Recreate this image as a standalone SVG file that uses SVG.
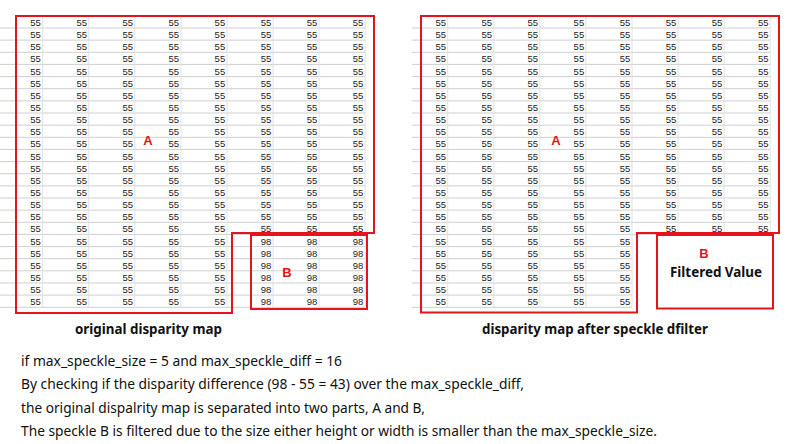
<svg xmlns="http://www.w3.org/2000/svg" width="792" height="444" viewBox="0 0 792 444">
<style>
.c{font-family:"Liberation Sans",Arial,sans-serif;font-size:9.5px;fill:#222;text-anchor:end}
.hl{stroke:#cfcfcf;stroke-width:1;fill:none}
.vl{stroke:#e2e2e2;stroke-width:1;fill:none}
.box{stroke:#e5131c;stroke-width:2;fill:none}
.lab{font-family:"Liberation Sans",Arial,sans-serif;font-size:13px;font-weight:bold;fill:#e5131c}
.cap{font-family:"Noto Sans","Liberation Sans",sans-serif;font-size:14px;font-weight:bold;fill:#111}
.note{font-family:"Noto Sans","Liberation Sans",sans-serif;font-size:14px;fill:#111}
</style>
<rect width="792" height="444" fill="#fff"/>
<g id="left-grid">
<path class="hl" d="M0 28H365.2M0 40.1H365.2M0 52.3H365.2M0 64.4H365.2M0 76.6H365.2M0 88.7H365.2M0 100.9H365.2M0 113H365.2M0 125.2H365.2M0 137.3H365.2M0 149.4H365.2M0 161.6H365.2M0 173.7H365.2M0 185.9H365.2M0 198H365.2M0 210.1H365.2M0 222.3H365.2M0 234.4H365.2M0 246.6H365.2M0 258.7H365.2M0 270.8H365.2M0 283H365.2M0 295.1H365.2M0 307.3H365.2"/>
<path class="vl" d="M42.7 16V307.3M88.8 16V307.3M134.8 16V307.3M180.9 16V307.3M227 16V307.3M273.1 16V307.3M319.1 16V307.3M365.2 16V307.3"/>
<text class="c" y="26"><tspan x="40.9">55</tspan><tspan x="87">55</tspan><tspan x="133">55</tspan><tspan x="179.1">55</tspan><tspan x="225.2">55</tspan><tspan x="271.3">55</tspan><tspan x="317.3">55</tspan><tspan x="363.4">55</tspan></text>
<text class="c" y="38.1"><tspan x="40.9">55</tspan><tspan x="87">55</tspan><tspan x="133">55</tspan><tspan x="179.1">55</tspan><tspan x="225.2">55</tspan><tspan x="271.3">55</tspan><tspan x="317.3">55</tspan><tspan x="363.4">55</tspan></text>
<text class="c" y="50.3"><tspan x="40.9">55</tspan><tspan x="87">55</tspan><tspan x="133">55</tspan><tspan x="179.1">55</tspan><tspan x="225.2">55</tspan><tspan x="271.3">55</tspan><tspan x="317.3">55</tspan><tspan x="363.4">55</tspan></text>
<text class="c" y="62.4"><tspan x="40.9">55</tspan><tspan x="87">55</tspan><tspan x="133">55</tspan><tspan x="179.1">55</tspan><tspan x="225.2">55</tspan><tspan x="271.3">55</tspan><tspan x="317.3">55</tspan><tspan x="363.4">55</tspan></text>
<text class="c" y="74.6"><tspan x="40.9">55</tspan><tspan x="87">55</tspan><tspan x="133">55</tspan><tspan x="179.1">55</tspan><tspan x="225.2">55</tspan><tspan x="271.3">55</tspan><tspan x="317.3">55</tspan><tspan x="363.4">55</tspan></text>
<text class="c" y="86.7"><tspan x="40.9">55</tspan><tspan x="87">55</tspan><tspan x="133">55</tspan><tspan x="179.1">55</tspan><tspan x="225.2">55</tspan><tspan x="271.3">55</tspan><tspan x="317.3">55</tspan><tspan x="363.4">55</tspan></text>
<text class="c" y="98.9"><tspan x="40.9">55</tspan><tspan x="87">55</tspan><tspan x="133">55</tspan><tspan x="179.1">55</tspan><tspan x="225.2">55</tspan><tspan x="271.3">55</tspan><tspan x="317.3">55</tspan><tspan x="363.4">55</tspan></text>
<text class="c" y="111"><tspan x="40.9">55</tspan><tspan x="87">55</tspan><tspan x="133">55</tspan><tspan x="179.1">55</tspan><tspan x="225.2">55</tspan><tspan x="271.3">55</tspan><tspan x="317.3">55</tspan><tspan x="363.4">55</tspan></text>
<text class="c" y="123.2"><tspan x="40.9">55</tspan><tspan x="87">55</tspan><tspan x="133">55</tspan><tspan x="179.1">55</tspan><tspan x="225.2">55</tspan><tspan x="271.3">55</tspan><tspan x="317.3">55</tspan><tspan x="363.4">55</tspan></text>
<text class="c" y="135.3"><tspan x="40.9">55</tspan><tspan x="87">55</tspan><tspan x="133">55</tspan><tspan x="179.1">55</tspan><tspan x="225.2">55</tspan><tspan x="271.3">55</tspan><tspan x="317.3">55</tspan><tspan x="363.4">55</tspan></text>
<text class="c" y="147.4"><tspan x="40.9">55</tspan><tspan x="87">55</tspan><tspan x="133">55</tspan><tspan x="179.1">55</tspan><tspan x="225.2">55</tspan><tspan x="271.3">55</tspan><tspan x="317.3">55</tspan><tspan x="363.4">55</tspan></text>
<text class="c" y="159.6"><tspan x="40.9">55</tspan><tspan x="87">55</tspan><tspan x="133">55</tspan><tspan x="179.1">55</tspan><tspan x="225.2">55</tspan><tspan x="271.3">55</tspan><tspan x="317.3">55</tspan><tspan x="363.4">55</tspan></text>
<text class="c" y="171.7"><tspan x="40.9">55</tspan><tspan x="87">55</tspan><tspan x="133">55</tspan><tspan x="179.1">55</tspan><tspan x="225.2">55</tspan><tspan x="271.3">55</tspan><tspan x="317.3">55</tspan><tspan x="363.4">55</tspan></text>
<text class="c" y="183.9"><tspan x="40.9">55</tspan><tspan x="87">55</tspan><tspan x="133">55</tspan><tspan x="179.1">55</tspan><tspan x="225.2">55</tspan><tspan x="271.3">55</tspan><tspan x="317.3">55</tspan><tspan x="363.4">55</tspan></text>
<text class="c" y="196"><tspan x="40.9">55</tspan><tspan x="87">55</tspan><tspan x="133">55</tspan><tspan x="179.1">55</tspan><tspan x="225.2">55</tspan><tspan x="271.3">55</tspan><tspan x="317.3">55</tspan><tspan x="363.4">55</tspan></text>
<text class="c" y="208.1"><tspan x="40.9">55</tspan><tspan x="87">55</tspan><tspan x="133">55</tspan><tspan x="179.1">55</tspan><tspan x="225.2">55</tspan><tspan x="271.3">55</tspan><tspan x="317.3">55</tspan><tspan x="363.4">55</tspan></text>
<text class="c" y="220.3"><tspan x="40.9">55</tspan><tspan x="87">55</tspan><tspan x="133">55</tspan><tspan x="179.1">55</tspan><tspan x="225.2">55</tspan><tspan x="271.3">55</tspan><tspan x="317.3">55</tspan><tspan x="363.4">55</tspan></text>
<text class="c" y="232.4"><tspan x="40.9">55</tspan><tspan x="87">55</tspan><tspan x="133">55</tspan><tspan x="179.1">55</tspan><tspan x="225.2">55</tspan><tspan x="271.3">55</tspan><tspan x="317.3">55</tspan><tspan x="363.4">55</tspan></text>
<text class="c" y="244.6"><tspan x="40.9">55</tspan><tspan x="87">55</tspan><tspan x="133">55</tspan><tspan x="179.1">55</tspan><tspan x="225.2">55</tspan><tspan x="271.3">98</tspan><tspan x="317.3">98</tspan><tspan x="363.4">98</tspan></text>
<text class="c" y="256.7"><tspan x="40.9">55</tspan><tspan x="87">55</tspan><tspan x="133">55</tspan><tspan x="179.1">55</tspan><tspan x="225.2">55</tspan><tspan x="271.3">98</tspan><tspan x="317.3">98</tspan><tspan x="363.4">98</tspan></text>
<text class="c" y="268.8"><tspan x="40.9">55</tspan><tspan x="87">55</tspan><tspan x="133">55</tspan><tspan x="179.1">55</tspan><tspan x="225.2">55</tspan><tspan x="271.3">98</tspan><tspan x="317.3">98</tspan><tspan x="363.4">98</tspan></text>
<text class="c" y="281"><tspan x="40.9">55</tspan><tspan x="87">55</tspan><tspan x="133">55</tspan><tspan x="179.1">55</tspan><tspan x="225.2">55</tspan><tspan x="271.3">98</tspan><tspan x="317.3">98</tspan><tspan x="363.4">98</tspan></text>
<text class="c" y="293.1"><tspan x="40.9">55</tspan><tspan x="87">55</tspan><tspan x="133">55</tspan><tspan x="179.1">55</tspan><tspan x="225.2">55</tspan><tspan x="271.3">98</tspan><tspan x="317.3">98</tspan><tspan x="363.4">98</tspan></text>
<text class="c" y="305.3"><tspan x="40.9">55</tspan><tspan x="87">55</tspan><tspan x="133">55</tspan><tspan x="179.1">55</tspan><tspan x="225.2">55</tspan><tspan x="271.3">98</tspan><tspan x="317.3">98</tspan><tspan x="363.4">98</tspan></text>
</g>
<g id="right-grid">
<path class="hl" d="M411.7 28H770.2M411.7 40.1H770.2M411.7 52.3H770.2M411.7 64.4H770.2M411.7 76.6H770.2M411.7 88.7H770.2M411.7 100.9H770.2M411.7 113H770.2M411.7 125.2H770.2M411.7 137.3H770.2M411.7 149.4H770.2M411.7 161.6H770.2M411.7 173.7H770.2M411.7 185.9H770.2M411.7 198H770.2M411.7 210.1H770.2M411.7 222.3H770.2M411.7 234.4H770.2M411.7 246.6H632M411.7 258.7H632M411.7 270.8H632M411.7 283H632M411.7 295.1H632M411.7 307.3H632"/>
<path class="vl" d="M447.7 16V307.3M493.8 16V307.3M539.8 16V307.3M585.9 16V307.3M632 16V307.3M678.1 16V234.4M724.1 16V234.4M770.2 16V234.4"/>
<text class="c" y="26"><tspan x="446">55</tspan><tspan x="492.1">55</tspan><tspan x="538.1">55</tspan><tspan x="584.2">55</tspan><tspan x="630.3">55</tspan><tspan x="676.4">55</tspan><tspan x="722.4">55</tspan><tspan x="768.5">55</tspan></text>
<text class="c" y="38.1"><tspan x="446">55</tspan><tspan x="492.1">55</tspan><tspan x="538.1">55</tspan><tspan x="584.2">55</tspan><tspan x="630.3">55</tspan><tspan x="676.4">55</tspan><tspan x="722.4">55</tspan><tspan x="768.5">55</tspan></text>
<text class="c" y="50.3"><tspan x="446">55</tspan><tspan x="492.1">55</tspan><tspan x="538.1">55</tspan><tspan x="584.2">55</tspan><tspan x="630.3">55</tspan><tspan x="676.4">55</tspan><tspan x="722.4">55</tspan><tspan x="768.5">55</tspan></text>
<text class="c" y="62.4"><tspan x="446">55</tspan><tspan x="492.1">55</tspan><tspan x="538.1">55</tspan><tspan x="584.2">55</tspan><tspan x="630.3">55</tspan><tspan x="676.4">55</tspan><tspan x="722.4">55</tspan><tspan x="768.5">55</tspan></text>
<text class="c" y="74.6"><tspan x="446">55</tspan><tspan x="492.1">55</tspan><tspan x="538.1">55</tspan><tspan x="584.2">55</tspan><tspan x="630.3">55</tspan><tspan x="676.4">55</tspan><tspan x="722.4">55</tspan><tspan x="768.5">55</tspan></text>
<text class="c" y="86.7"><tspan x="446">55</tspan><tspan x="492.1">55</tspan><tspan x="538.1">55</tspan><tspan x="584.2">55</tspan><tspan x="630.3">55</tspan><tspan x="676.4">55</tspan><tspan x="722.4">55</tspan><tspan x="768.5">55</tspan></text>
<text class="c" y="98.9"><tspan x="446">55</tspan><tspan x="492.1">55</tspan><tspan x="538.1">55</tspan><tspan x="584.2">55</tspan><tspan x="630.3">55</tspan><tspan x="676.4">55</tspan><tspan x="722.4">55</tspan><tspan x="768.5">55</tspan></text>
<text class="c" y="111"><tspan x="446">55</tspan><tspan x="492.1">55</tspan><tspan x="538.1">55</tspan><tspan x="584.2">55</tspan><tspan x="630.3">55</tspan><tspan x="676.4">55</tspan><tspan x="722.4">55</tspan><tspan x="768.5">55</tspan></text>
<text class="c" y="123.2"><tspan x="446">55</tspan><tspan x="492.1">55</tspan><tspan x="538.1">55</tspan><tspan x="584.2">55</tspan><tspan x="630.3">55</tspan><tspan x="676.4">55</tspan><tspan x="722.4">55</tspan><tspan x="768.5">55</tspan></text>
<text class="c" y="135.3"><tspan x="446">55</tspan><tspan x="492.1">55</tspan><tspan x="538.1">55</tspan><tspan x="584.2">55</tspan><tspan x="630.3">55</tspan><tspan x="676.4">55</tspan><tspan x="722.4">55</tspan><tspan x="768.5">55</tspan></text>
<text class="c" y="147.4"><tspan x="446">55</tspan><tspan x="492.1">55</tspan><tspan x="538.1">55</tspan><tspan x="584.2">55</tspan><tspan x="630.3">55</tspan><tspan x="676.4">55</tspan><tspan x="722.4">55</tspan><tspan x="768.5">55</tspan></text>
<text class="c" y="159.6"><tspan x="446">55</tspan><tspan x="492.1">55</tspan><tspan x="538.1">55</tspan><tspan x="584.2">55</tspan><tspan x="630.3">55</tspan><tspan x="676.4">55</tspan><tspan x="722.4">55</tspan><tspan x="768.5">55</tspan></text>
<text class="c" y="171.7"><tspan x="446">55</tspan><tspan x="492.1">55</tspan><tspan x="538.1">55</tspan><tspan x="584.2">55</tspan><tspan x="630.3">55</tspan><tspan x="676.4">55</tspan><tspan x="722.4">55</tspan><tspan x="768.5">55</tspan></text>
<text class="c" y="183.9"><tspan x="446">55</tspan><tspan x="492.1">55</tspan><tspan x="538.1">55</tspan><tspan x="584.2">55</tspan><tspan x="630.3">55</tspan><tspan x="676.4">55</tspan><tspan x="722.4">55</tspan><tspan x="768.5">55</tspan></text>
<text class="c" y="196"><tspan x="446">55</tspan><tspan x="492.1">55</tspan><tspan x="538.1">55</tspan><tspan x="584.2">55</tspan><tspan x="630.3">55</tspan><tspan x="676.4">55</tspan><tspan x="722.4">55</tspan><tspan x="768.5">55</tspan></text>
<text class="c" y="208.1"><tspan x="446">55</tspan><tspan x="492.1">55</tspan><tspan x="538.1">55</tspan><tspan x="584.2">55</tspan><tspan x="630.3">55</tspan><tspan x="676.4">55</tspan><tspan x="722.4">55</tspan><tspan x="768.5">55</tspan></text>
<text class="c" y="220.3"><tspan x="446">55</tspan><tspan x="492.1">55</tspan><tspan x="538.1">55</tspan><tspan x="584.2">55</tspan><tspan x="630.3">55</tspan><tspan x="676.4">55</tspan><tspan x="722.4">55</tspan><tspan x="768.5">55</tspan></text>
<text class="c" y="232.4"><tspan x="446">55</tspan><tspan x="492.1">55</tspan><tspan x="538.1">55</tspan><tspan x="584.2">55</tspan><tspan x="630.3">55</tspan><tspan x="676.4">55</tspan><tspan x="722.4">55</tspan><tspan x="768.5">55</tspan></text>
<text class="c" y="244.6"><tspan x="446">55</tspan><tspan x="492.1">55</tspan><tspan x="538.1">55</tspan><tspan x="584.2">55</tspan><tspan x="630.3">55</tspan></text>
<text class="c" y="256.7"><tspan x="446">55</tspan><tspan x="492.1">55</tspan><tspan x="538.1">55</tspan><tspan x="584.2">55</tspan><tspan x="630.3">55</tspan></text>
<text class="c" y="268.8"><tspan x="446">55</tspan><tspan x="492.1">55</tspan><tspan x="538.1">55</tspan><tspan x="584.2">55</tspan><tspan x="630.3">55</tspan></text>
<text class="c" y="281"><tspan x="446">55</tspan><tspan x="492.1">55</tspan><tspan x="538.1">55</tspan><tspan x="584.2">55</tspan><tspan x="630.3">55</tspan></text>
<text class="c" y="293.1"><tspan x="446">55</tspan><tspan x="492.1">55</tspan><tspan x="538.1">55</tspan><tspan x="584.2">55</tspan><tspan x="630.3">55</tspan></text>
<text class="c" y="305.3"><tspan x="446">55</tspan><tspan x="492.1">55</tspan><tspan x="538.1">55</tspan><tspan x="584.2">55</tspan><tspan x="630.3">55</tspan></text>
</g>
<g id="region-A-original">
<polygon class="box" points="16,16 374,16 374,233 232,233 232,313 16,313"/>
<text class="lab" x="148" y="145" text-anchor="middle">A</text>
</g>
<g id="region-B-original">
<rect class="box" x="251" y="235" width="116" height="74"/>
<text class="lab" x="287" y="277" text-anchor="middle">B</text>
</g>
<g id="region-A-filtered">
<polygon class="box" points="421,16 779,16 779,233 637,233 637,312.5 421,312.5"/>
<text class="lab" x="556" y="145" text-anchor="middle">A</text>
</g>
<g id="region-B-filtered">
<rect class="box" x="657" y="235" width="116" height="73.5" fill="#fff"/>
<text class="lab" x="704" y="258" text-anchor="middle">B</text>
<text class="cap" x="670" y="277" textLength="92" lengthAdjust="spacingAndGlyphs">Filtered Value</text>
</g>
<g id="captions">
<text class="cap" x="75" y="334" textLength="147" lengthAdjust="spacingAndGlyphs">original disparity map</text>
<text class="cap" x="482" y="334" textLength="226" lengthAdjust="spacingAndGlyphs">disparity map after speckle dfilter</text>
</g>
<g id="notes">
<text class="note" x="21" y="366" textLength="321" lengthAdjust="spacingAndGlyphs">if max_speckle_size = 5 and max_speckle_diff = 16</text>
<text class="note" x="21" y="389.3" textLength="503" lengthAdjust="spacingAndGlyphs">By checking if the disparity difference (98 - 55 = 43) over the max_speckle_diff,</text>
<text class="note" x="21" y="412.7" textLength="404" lengthAdjust="spacingAndGlyphs">the original dispalrity map is separated into two parts, A and B,</text>
<text class="note" x="21" y="436" textLength="636" lengthAdjust="spacingAndGlyphs">The speckle B is filtered due to the size either height or width is smaller than the max_speckle_size.</text>
</g>
</svg>
